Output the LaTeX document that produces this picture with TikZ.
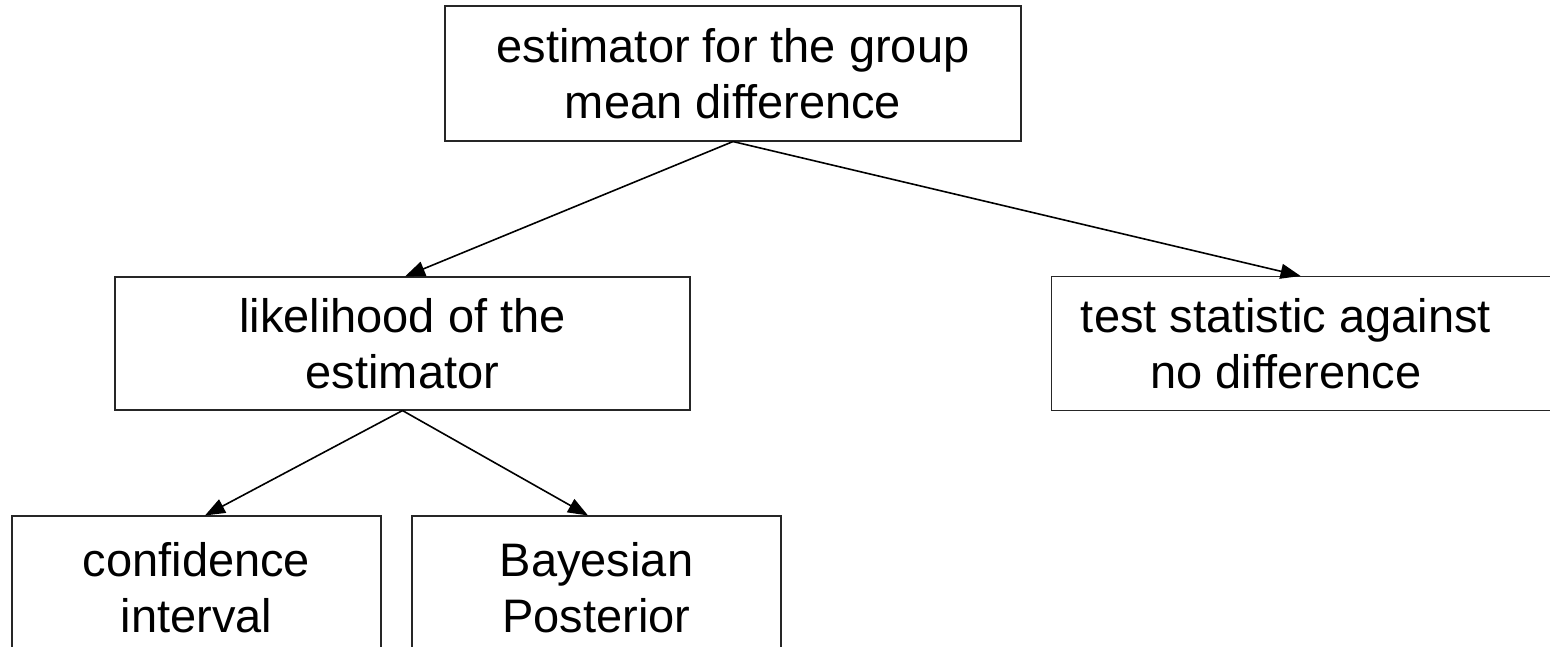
\documentclass[tikz,border=0pt]{standalone}
\usepackage{fontspec}
\setmainfont{Liberation Sans}
\usetikzlibrary{arrows.meta}
\begin{document}
\begin{tikzpicture}[x=1pt,y=-1pt,
  box/.style={draw=black!85, line width=1.1pt, inner sep=0pt, align=center,
    font=\fontsize{47}{56}\selectfont},
  txt/.style={inner sep=0pt, align=center, font=\fontsize{47}{56}\selectfont},
  arr/.style={line width=1.6pt, -{Triangle[length=20pt,width=15pt]}}]
\useasboundingbox (0,0) rectangle (1550,646);
\clip (0,0) rectangle (1550,646);
\fill[white] (0,0) rectangle (1550,646);
\node[box, minimum width=576pt, minimum height=135pt] (est) at (733,73.5) {estimator for the group\\mean difference};
\node[box, minimum width=575pt, minimum height=133pt] (lik) at (402.5,343.5) {likelihood of the\\estimator};
\node[box, minimum width=520pt, minimum height=134pt, anchor=west] (test) at (1051,343.5) {};
\node[txt] (testtxt) at (1286,343.5) {test statistic against\\no difference};
\node[box, minimum width=369pt, minimum height=144pt] (ci) at (196.5,588) {confidence\\interval};
\node[box, minimum width=369pt, minimum height=144pt] (bp) at (596.5,588) {Bayesian\\Posterior};
\draw[arr] (est.south) -- ([xshift=2.5pt]lik.north);
\draw[arr] (est.south) -- ([xshift=-11pt]test.north);
\draw[arr] (lik.south) -- ([xshift=8.5pt]ci.north);
\draw[arr] (lik.south) -- ([xshift=-8.5pt]bp.north);
\end{tikzpicture}
\end{document}
